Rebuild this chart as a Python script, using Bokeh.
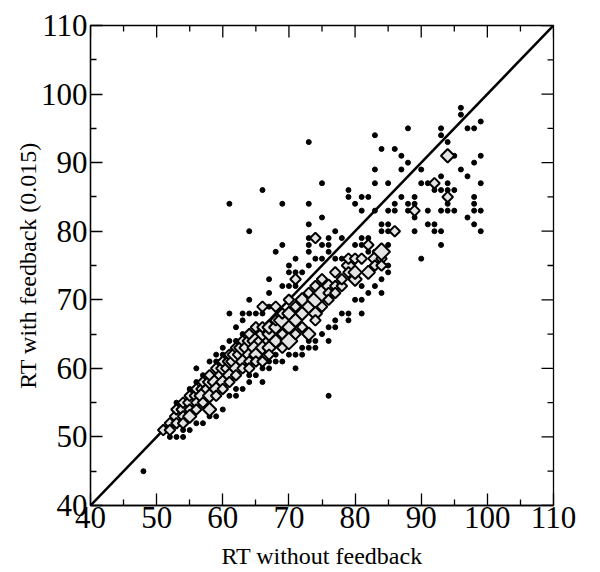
import numpy as np
from bokeh.plotting import figure
from bokeh.models import Range1d, FixedTicker
from bokeh.embed import file_html
from bokeh.resources import INLINE

# single observations (small black dots)
dots = [
    (96,98),(96,97),(88,95),(93,95),(97,95),(98,95),(99,96),(83,94),(93,94),(94,93),
    (84,92),(86,92),(87,91),(95,91),(99,91),(88,90),(98,90),(83,89),(87,89),(90,89),
    (96,89),(93,88),(97,88),(83,87),(85,87),(90,87),(91,87),(94,87),(99,87),(79,86),
    (92,86),(93,86),(94,86),(95,86),(79,85),(81,85),(82,85),(87,85),(89,85),(98,85),
    (80,84),(86,84),(88,84),(89,84),(94,84),(98,84),(81,83),(83,83),(85,83),(86,83),
    (88,83),(91,83),(93,83),(94,83),(95,83),(98,83),(99,83),(89,82),(97,82),(84,81),
    (85,81),(91,81),(92,81),(98,81),(84,80),(85,80),(89,80),(92,80),(93,80),(99,80),
    (90,76),(93,78),
    (73,84),(75,82),(73,81),(77,80),(73,79),(76,79),(78,79),(81,79),(82,79),(76,78),
    (80,78),(81,78),(85,78),(73,77),(76,77),(82,77),(83,77),(73,78),(75,78),
    (71,76),(74,76),(75,76),(77,76),(78,76),(70,74),
    (48,45),(52,50),(53,50),(54,50),(54,51),(55,51),(53,55),(55,57),(56,58),(56,60),
    (57,59),(58,61),(59,61),(59,62),(60,62),(60,63),(61,64),(62,64),(62,66),(63,65),
    (63,67),(61,68),(63,68),(64,68),(65,68),(66,68),(67,69),(64,70),(67,71),(67,73),
    (69,72),(70,72),(71,72),(71,74),(72,74),(70,75),(73,75),(68,77),(64,80),(69,78),
    (61,84),(66,86),(69,84),(73,93),(75,87),
    (56,52),(57,52),(58,53),(59,53),(60,54),(61,56),(62,56),(62,57),(63,57),(64,58),
    (64,59),(65,59),(66,58),(66,60),(67,60),(67,61),(68,61),(68,62),(69,61),(70,62),
    (71,60),(71,62),(72,62),(72,63),(73,63),(73,64),(74,63),(74,64),(75,65),(76,64),
    (76,66),(77,66),(77,67),(78,68),(79,67),(79,68),(80,70),(81,68),(81,70),(82,71),
    (84,71),(81,72),(83,72),(84,73),(85,74),(85,75),(76,56),
]
dot_x = [d[0] for d in dots]
dot_y = [d[1] for d in dots]

# repeated observations (grey diamonds), with multiplicity
diamonds = [
    (51,51,2),(52,52,2),(52,51,2),(53,53,3),(53,54,2),(53,52,2),
    (54,54,3),(54,55,2),(54,53,2),(54,52,2),(55,55,3),(55,54,2),(55,56,2),(55,53,3),
    (56,56,3),(56,55,2),(56,57,2),(56,54,2),(57,57,3),(57,56,4),(57,58,2),(57,55,2),
    (58,57,4),(58,58,3),(58,56,3),(58,54,3),(58,59,2),(59,58,4),(59,57,3),(59,60,2),(59,56,2),
    (60,59,4),(60,60,3),(60,58,3),(60,61,2),(60,57,2),(61,60,4),(61,61,3),(61,62,2),(61,59,3),(61,58,2),
    (62,61,5),(62,62,4),(62,63,2),(62,60,3),(62,59,2),(63,62,5),(63,63,4),(63,64,2),(63,61,3),(63,60,2),
    (64,63,5),(64,64,3),(64,65,2),(64,62,3),(64,61,2),(64,60,2),(65,64,4),(65,63,4),(65,62,3),(65,66,2),(65,61,2),
    (66,64,4),(66,65,3),(66,63,3),(66,66,2),(66,61,2),(66,69,2),(67,65,3),(67,66,3),(67,63,3),(67,62,2),
    (68,66,3),(68,67,2),(68,64,3),(68,69,2),(69,67,4),(69,65,2),(69,68,2),(69,63,2),
    (70,68,3),(70,66,3),(70,64,4),(70,70,2),(71,67,3),(71,69,2),(71,65,2),(71,73,2),
    (72,68,3),(72,70,3),(72,66,2),(73,69,3),(73,65,3),(73,71,2),
    (74,70,4),(74,68,3),(74,67,2),(74,72,2),(75,71,4),(75,69,2),(75,73,2),
    (76,72,3),(76,71,2),(76,70,2),(77,72,2),(77,71,2),(77,74,2),(78,72,2),(78,73,2),
    (79,75,3),(79,74,2),(79,76,2),(80,73,3),(80,74,3),(80,76,2),(81,76,2),
    (82,74,3),(83,76,3),(84,76,2),(83,75,2),(84,75,2),(84,77,4),
    (74,79,2),(82,78,2),(86,80,2),(89,83,2),(92,87,2),(94,85,2),(94,91,3),
]
dia_x = [d[0] for d in diamonds]
dia_y = [d[1] for d in diamonds]
dia_n = [d[2] for d in diamonds]

diag_x = [40, 110]
diag_y = [40, 110]
major_ticks = [40, 50, 60, 70, 80, 90, 100, 110]
minor_ticks = [45, 55, 65, 75, 85, 95, 105]

FONT = "Liberation Serif"
X0, X1, Y0, Y1 = 40, 110, 40, 110
FW, FH = 463, 480
ML, MR, MT, MB = 90, 47, 25, 67

p = figure(width=ML + FW + MR, height=MT + FH + MB,
           x_range=Range1d(X0, X1), y_range=Range1d(Y0, Y1),
           output_backend="svg", toolbar_location=None,
           min_border_left=ML, min_border_right=MR,
           min_border_top=MT, min_border_bottom=MB)
p.xgrid.visible = False
p.ygrid.visible = False
p.outline_line_color = "black"
p.outline_line_width = 1.3

for ax in (p.xaxis[0], p.yaxis[0]):
    ax.ticker = FixedTicker(ticks=major_ticks, minor_ticks=minor_ticks)
    ax.major_tick_in = 12
    ax.major_tick_out = 0
    ax.minor_tick_in = 6
    ax.minor_tick_out = 0
    ax.axis_line_color = "black"
    ax.axis_line_width = 1.3
    ax.major_tick_line_color = "black"
    ax.minor_tick_line_color = "black"
    ax.major_tick_line_width = 1.3
    ax.minor_tick_line_width = 1.3
    ax.major_label_text_font = FONT
    ax.major_label_text_font_size = "31px"
    ax.major_label_text_color = "black"
    ax.axis_label_text_font = FONT
    ax.axis_label_text_font_size = "24px"
    ax.axis_label_text_font_style = "normal"
    ax.axis_label_text_color = "black"

p.xaxis[0].axis_label = "RT without feedback"
p.yaxis[0].axis_label = "RT with feedback (0.015)"
p.xaxis[0].major_label_standoff = 1
p.yaxis[0].major_label_standoff = 3
p.xaxis[0].axis_label_standoff = 12
p.yaxis[0].axis_label_standoff = -3

# mirrored inward ticks on the top and right edges
ux = (X1 - X0) / FW
uy = (Y1 - Y0) / FH
p.segment(x0=major_ticks, y0=[Y1] * len(major_ticks), x1=major_ticks,
          y1=[Y1 - 12 * uy] * len(major_ticks), line_color="black", line_width=1.3)
p.segment(x0=minor_ticks, y0=[Y1] * len(minor_ticks), x1=minor_ticks,
          y1=[Y1 - 6 * uy] * len(minor_ticks), line_color="black", line_width=1.3)
p.segment(x0=[X1] * len(major_ticks), y0=major_ticks, x1=[X1 - 12 * ux] * len(major_ticks),
          y1=major_ticks, line_color="black", line_width=1.3)
p.segment(x0=[X1] * len(minor_ticks), y0=minor_ticks, x1=[X1 - 6 * ux] * len(minor_ticks),
          y1=minor_ticks, line_color="black", line_width=1.3)

p.line(diag_x, diag_y, line_color="black", line_width=2.5)
p.scatter(dot_x, dot_y, marker="circle", size=5, fill_color="black", line_color="black")
dia_size = [{2: 7.5, 3: 9.5, 4: 12, 5: 14}[n] for n in dia_n]
p.scatter(dia_x, dia_y, marker="square", size=dia_size, angle=np.pi / 4,
          fill_color="#e3e3e3", line_color="black", line_width=2)

open("out.html", "w").write(file_html(p, INLINE))
